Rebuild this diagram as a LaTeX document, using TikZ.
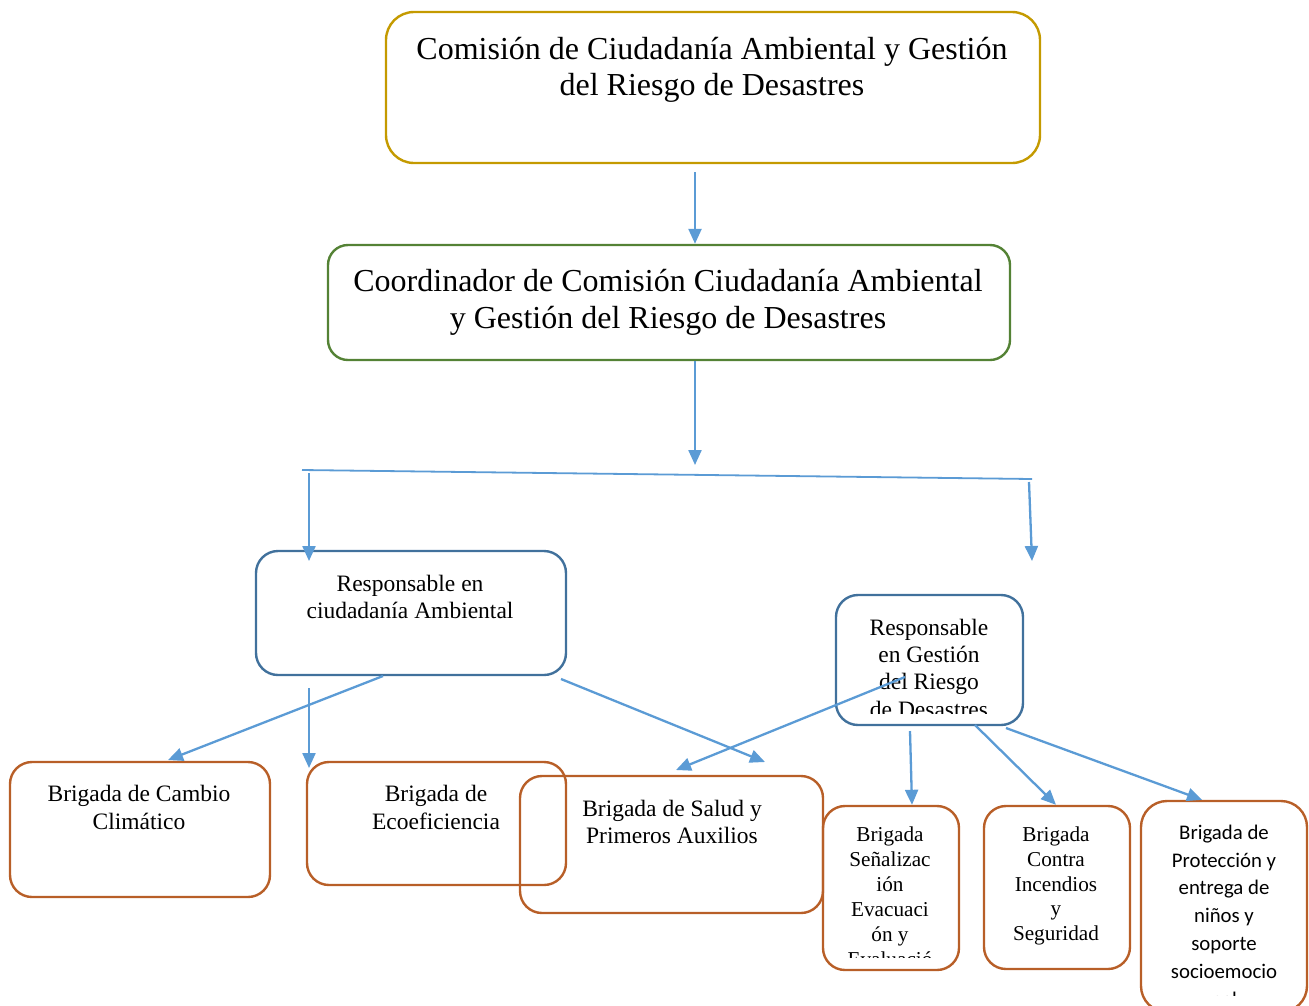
\documentclass[tikz,border=0pt]{standalone}
\usepackage{fontspec}
\setmainfont{Liberation Serif}
\newfontfamily\calibrifont{Carlito}
\usetikzlibrary{arrows.meta}
\definecolor{cgold}{HTML}{C49A00}
\definecolor{cgreen}{HTML}{548235}
\definecolor{cblue}{HTML}{41719C}
\definecolor{corange}{HTML}{B85F28}
\definecolor{carrow}{HTML}{5B9BD5}
\begin{document}
\begin{tikzpicture}[x=1pt,y=-1pt,
  box/.style={draw=#1, line width=2.4pt, inner sep=0pt},
  txt/.style={inner sep=0pt, align=center, text=black},
  arr/.style={draw=carrow, line width=2.3pt, -{Triangle[length=15pt,width=13pt]}},
  ln/.style={draw=carrow, line width=1.8pt}]
\clip (0,0) rectangle (1309,1005);
% boxes
\node[box=cgold, rounded corners=28pt, minimum width=654pt, minimum height=151pt] (top) at (713,87.5) {};
\node[box=cgreen, rounded corners=20pt, minimum width=682pt, minimum height=115pt] (coord) at (669,302.5) {};
\node[box=cblue, rounded corners=22pt, minimum width=310pt, minimum height=124pt] (resp1) at (411,613) {};
\node[box=cblue, rounded corners=22pt, minimum width=187pt, minimum height=130pt] (resp2) at (929.5,660) {};
\node[box=corange, rounded corners=22pt, minimum width=260pt, minimum height=135pt] (cambio) at (140,829.5) {};
\node[box=corange, rounded corners=22pt, minimum width=259pt, minimum height=123pt] (ecoef) at (436.5,823.5) {};
\node[box=corange, rounded corners=22pt, minimum width=303pt, minimum height=137pt] (salud) at (671.5,844.5) {};
\node[box=corange, rounded corners=22pt, minimum width=136pt, minimum height=164pt] (senal) at (891,888) {};
\node[box=corange, rounded corners=22pt, minimum width=146pt, minimum height=163pt] (incend) at (1057,887.5) {};
\node[box=corange, rounded corners=26pt, minimum width=166pt, minimum height=211pt] (protec) at (1224,906.5) {};
% texts
\node[txt, font=\fontsize{32}{36}\selectfont] (ttop) at (712,70) {Comisión de Ciudadanía Ambiental y Gestión\\del Riesgo de Desastres};
\node[txt, font=\fontsize{32}{37}\selectfont] (tcoord) at (668,302) {Coordinador de Comisión Ciudadanía Ambiental\\y Gestión del Riesgo de Desastres};
\node[txt, font=\fontsize{23.5}{27}\selectfont] (tresp1) at (410,597) {Responsable en\\ciudadanía Ambiental};
\begin{scope}
\clip (830,600) rectangle (1020,713);
\node[txt, font=\fontsize{23.5}{27.3}\selectfont] (tresp2) at (929,668) {Responsable\\en Gestión\\del Riesgo\\de Desastres};
\end{scope}
\node[txt, font=\fontsize{23.5}{28}\selectfont] (tcambio) at (139,807) {Brigada de Cambio\\Climático};
\node[txt, font=\fontsize{23.5}{28}\selectfont] (tecoef) at (436,807) {Brigada de\\Ecoeficiencia};
\node[txt, font=\fontsize{23.5}{27}\selectfont] (tsalud) at (672,822) {Brigada de Salud y\\Primeros Auxilios};
\begin{scope}
\clip (826,810) rectangle (957,957);
\node[txt, font=\fontsize{21.2}{25}\selectfont] (tsenal) at (890,897) {Brigada\\Señalizac\\ión\\Evacuaci\\ón y\\Evaluació};
\end{scope}
\node[txt, font=\fontsize{21.2}{24.8}\selectfont] (tincend) at (1056,886) {Brigada\\Contra\\Incendios\\y\\Seguridad};
\begin{scope}
\clip (1144,805) rectangle (1305,995);
\node[txt, font=\calibrifont\fontsize{20.8}{27.8}\selectfont] (tprotec) at (1224,915.5) {Brigada de\\Protección y\\entrega de\\niños y\\soporte\\socioemocio\\nal};
\end{scope}
% connector points
\coordinate (a1) at (695,172);
\coordinate (j1) at (695,465);
\coordinate (bl) at (302,470);
\coordinate (br) at (1032,479);
\coordinate (b1) at (309,473);
\coordinate (b1e) at (309,561);
\coordinate (b2) at (1029,482);
\coordinate (b2e) at (1032,561);
\coordinate (c1) at (383,676);
\coordinate (c1e) at (168,760);
\coordinate (c2) at (309,688);
\coordinate (c2e) at (309,768);
\coordinate (c3) at (561,679);
\coordinate (c3e) at (765,762);
\coordinate (d1) at (905,677);
\coordinate (d1e) at (676,770);
\coordinate (d2) at (910,731);
\coordinate (d3) at (975,725);
\coordinate (d4) at (1006,728);
% connectors
\draw[arr] (a1) -- (a1 |- coord.north);
\draw[arr] (coord.south -| j1) -- (j1);
\draw[ln] (bl) -- (br);
\draw[arr] (b1) -- (b1e);
\draw[arr] (b2) -- (b2e);
\draw[arr] (c1) -- (c1e);
\draw[arr] (c2) -- (c2e);
\draw[arr] (c3) -- (c3e);
\draw[arr] (d1) -- (d1e);
\draw[arr] (d2) -- ([xshift=2pt]senal.north -| d2);
\draw[arr] (d3) -- ([xshift=-1pt]incend.north);
\draw[arr] (d4) -- ([xshift=-22pt]protec.north);
\end{tikzpicture}
\end{document}
